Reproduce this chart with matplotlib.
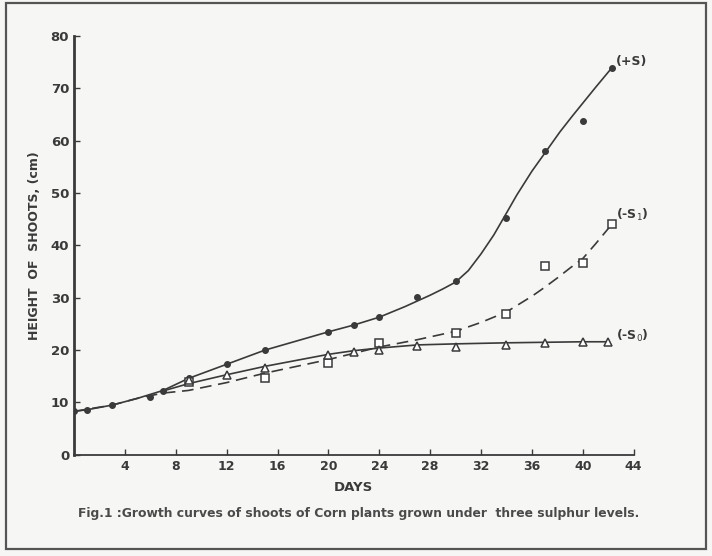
import matplotlib as mpl
mpl.use('Agg')
mpl.rcParams['axes.spines.right'] = False
mpl.rcParams['axes.spines.top'] = False
mpl.rcParams['font.family'] = ['Liberation Sans Narrow', 'DejaVu Sans']
import matplotlib.pyplot as plt
from matplotlib.patches import Rectangle

INK = '#3a3a3a'

# measured points
plus_s_days = [0, 1, 3, 6, 7, 9, 12, 15, 20, 22, 24, 27, 30, 34, 37, 40, 42.3]
plus_s_height = [8.3, 8.6, 9.5, 11.0, 12.2, 14.7, 17.3, 20.0, 23.5, 24.8, 26.3,
                 30.2, 33.2, 45.2, 58.0, 63.7, 74.0]

minus_s1_days = [9, 15, 20, 24, 30, 34, 37, 40, 42.3]
minus_s1_height = [14.0, 14.7, 17.5, 21.4, 23.3, 27.0, 36.1, 36.6, 44.1]

minus_s0_days = [9, 12, 15, 20, 22, 24, 27, 30, 34, 37, 40, 42]
minus_s0_height = [14.3, 15.2, 16.6, 19.1, 19.7, 20.0, 20.8, 20.6, 21.0, 21.4,
                   21.6, 21.6]

# fitted curves as drawn
plus_s_curve_days = [0, 1, 3, 5, 7, 9, 12, 15, 20, 22, 24, 26, 27, 28, 29, 30,
                     31, 32, 33, 34, 34.8, 36, 37, 38.2, 39.2, 40, 41, 42.3]
plus_s_curve = [8.3, 8.6, 9.5, 10.8, 12.3, 14.6, 17.3, 20.0, 23.5, 24.8, 26.3,
                28.3, 29.4, 30.5, 31.7, 33.0, 35.2, 38.4, 42.0, 46.2, 49.6,
                54.2, 57.6, 61.7, 64.8, 67.2, 70.2, 74.0]

minus_s1_curve_days = [0, 3, 5, 7, 9, 12, 15, 20, 22, 24, 27, 30, 32, 34, 36,
                       37, 38, 39, 40, 41, 42.3]
minus_s1_curve = [8.3, 9.5, 10.8, 11.8, 12.3, 13.8, 15.6, 18.2, 19.4, 20.6,
                  22.0, 23.6, 25.3, 27.3, 30.3, 32.0, 33.8, 35.7, 37.5, 40.3,
                  44.1]

minus_s0_curve_days = [7, 9, 12, 15, 20, 22, 24, 27, 30, 34, 37, 40, 42]
minus_s0_curve = [12.2, 13.6, 15.3, 16.9, 19.2, 19.9, 20.4, 21.0, 21.2, 21.4,
                  21.5, 21.6, 21.6]

x_ticks = [4, 8, 12, 16, 20, 24, 28, 32, 36, 40, 44]
y_ticks = [0, 10, 20, 30, 40, 50, 60, 70, 80]

fig = plt.figure(figsize=(7.12, 5.56), dpi=100)
fig.patch.set_facecolor('#f6f6f4')
fig.patches.append(Rectangle((0.009, 0.012), 0.982, 0.982, transform=fig.transFigure,
                             fill=False, edgecolor='#555555', linewidth=1.6))

ax = fig.add_axes([0.104, 0.182, 0.786, 0.753])
ax.set_facecolor('#f6f6f4')

ax.plot(plus_s_curve_days, plus_s_curve, color=INK, lw=1.2)
ax.plot(minus_s1_curve_days, minus_s1_curve, color=INK, lw=1.2, ls=(0, (7, 4)))
ax.plot(minus_s0_curve_days, minus_s0_curve, color=INK, lw=1.2)

ax.plot(plus_s_days, plus_s_height, 'o', color=INK, ms=4)
ax.plot(minus_s1_days, minus_s1_height, 's', mfc='white', mec=INK, mew=1.1, ms=5.5)
ax.plot(minus_s0_days, minus_s0_height, '^', mfc='white', mec=INK, mew=1.1, ms=5.5)

ax.text(42.6, 74.5, '(+S)', color=INK, fontsize=9, fontweight='bold')
ax.text(42.6, 45.0, '(-S$_1$)', color=INK, fontsize=9, fontweight='bold')
ax.text(42.6, 22.0, '(-S$_0$)', color=INK, fontsize=9, fontweight='bold')

ax.set_xlim(0, 44)
ax.set_ylim(0, 80)
ax.set_xticks(x_ticks)
ax.set_yticks(y_ticks)
ax.tick_params(direction='in', length=4, width=1, colors=INK, labelsize=9)
ax.tick_params(axis='y', labelsize=9.5)
for lab in ax.get_xticklabels() + ax.get_yticklabels():
    lab.set_fontweight('bold')
for side in ['left', 'bottom']:
    ax.spines[side].set_color(INK)
ax.spines['left'].set_linewidth(2)
ax.spines['bottom'].set_linewidth(1.3)

ax.set_xlabel('DAYS', color=INK, fontsize=9.5, fontweight='bold', labelpad=6)
ax.set_ylabel('HEIGHT  OF  SHOOTS, (cm)', color=INK, fontsize=9, fontweight='bold',
              labelpad=7)

fig.text(0.11, 0.07, 'Fig.1 :Growth curves of shoots of Corn plants grown under  three sulphur levels.',
         color='#4a4a4a', fontsize=8.9, fontweight='bold')

fig.savefig('out.png', dpi=100, facecolor=fig.get_facecolor())
